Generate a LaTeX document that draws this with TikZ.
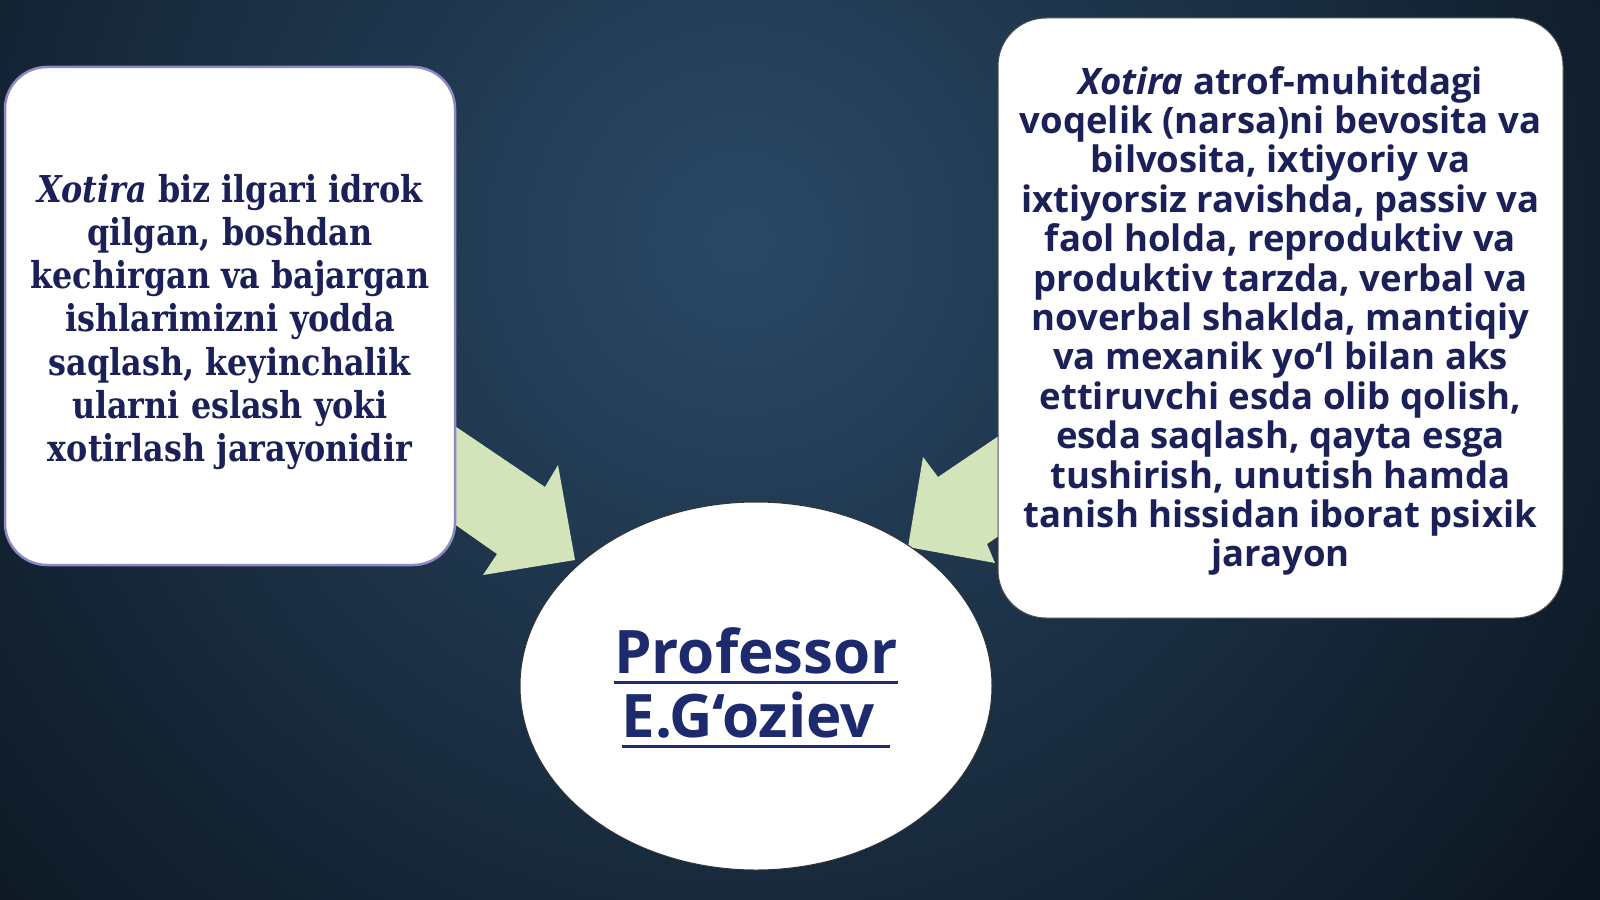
\documentclass[tikz,border=0pt]{standalone}
\usepackage{fontspec}
\usetikzlibrary{shapes.geometric}
\newfontfamily\osans{Open Sans}
\newfontfamily\lserif[FakeStretch=0.86]{DejaVu Serif}
\definecolor{bgdark}{HTML}{09111A}
\definecolor{bglight}{HTML}{2A4967}
\definecolor{arrowgreen}{HTML}{D3E4BA}
\definecolor{navy}{HTML}{1B2158}
\definecolor{titleblue}{HTML}{1E2A6E}
\definecolor{lborder}{HTML}{9088C4}
\newcommand\myul[1]{\setbox0=\hbox{#1}\rlap{\rule[-10pt]{\wd0}{3pt}}\box0}
\tikzset{
  arrowfill/.style={fill=arrowgreen},
  lboxstyle/.style={draw=lborder, line width=2.5pt, fill=white, rounded corners=42pt,
    minimum width=450pt, minimum height=498pt, inner sep=0pt},
  ltextstyle/.style={text=navy, align=center,
    font=\lserif\bfseries\fontsize{37}{43.1}\selectfont, inner sep=0pt},
  rboxstyle/.style={draw=black!70, line width=1pt, fill=white, rounded corners=48pt,
    minimum width=565pt, minimum height=600pt, inner sep=0pt},
  rtextstyle/.style={text=navy, align=center,
    font=\osans\bfseries\fontsize{36.5}{39.4}\selectfont, inner sep=0pt},
  ellstyle/.style={ellipse, draw=black!80, line width=1pt, fill=white,
    minimum width=472pt, minimum height=368pt, inner sep=0pt},
  titlestyle/.style={text=titleblue, align=center,
    font=\osans\bfseries\fontsize{60}{64}\selectfont, inner sep=0pt}
}
\begin{document}
\begin{tikzpicture}[x=1pt,y=-1pt]
\useasboundingbox (0,0) rectangle (1600,899);
\begin{scope}
\clip (0,0) rectangle (1600,899);
\fill[bgdark] (0,0) rectangle (1600,899);
\shade[inner color=bglight, outer color=bgdark] (740,240) circle[radius=1150pt];
\end{scope}
% arrows (behind boxes)
\fill[arrowfill] (440,416) -- (545,487) -- (558,465) -- (575,560) -- (483,575) -- (497,554) -- (440,514) -- cycle;
\fill[arrowfill] (1012,427) -- (938,477) -- (923,457) -- (908,547) -- (995,563) -- (987,544) -- (1012,527) -- cycle;
% left box
\node[lboxstyle] (lb) at (230,316) {};
\node[ltextstyle] (lt) at (230,322) {\textit{Xotira} biz ilgari idrok\\ qilgan, boshdan\\ kechirgan va bajargan\\ ishlarimizni yodda\\ saqlash, keyinchalik\\ ularni eslash yoki\\ xotirlash jarayonidir};
% right box
\node[rboxstyle] (rb) at (1280.5,318) {};
\node[rtextstyle] (rt) at (1280.5,321) {\textit{Xotira} atrof-muhitdagi\\ voqelik (narsa)ni bevosita va\\ bilvosita, ixtiyoriy va\\ ixtiyorsiz ravishda, passiv va\\ faol holda, reproduktiv va\\ produktiv tarzda, verbal va\\ noverbal shaklda, mantiqiy\\ va mexanik yo‘l bilan aks\\ ettiruvchi esda olib qolish,\\ esda saqlash, qayta esga\\ tushirish, unutish hamda\\ tanish hissidan iborat psixik\\ jarayon};
% ellipse
\node[ellstyle] (el) at (756,686) {};
\node[titlestyle] (title) at (756,688) {\myul{Professor}\\ \myul{E.G‘oziev\ }};
\end{tikzpicture}
\end{document}
